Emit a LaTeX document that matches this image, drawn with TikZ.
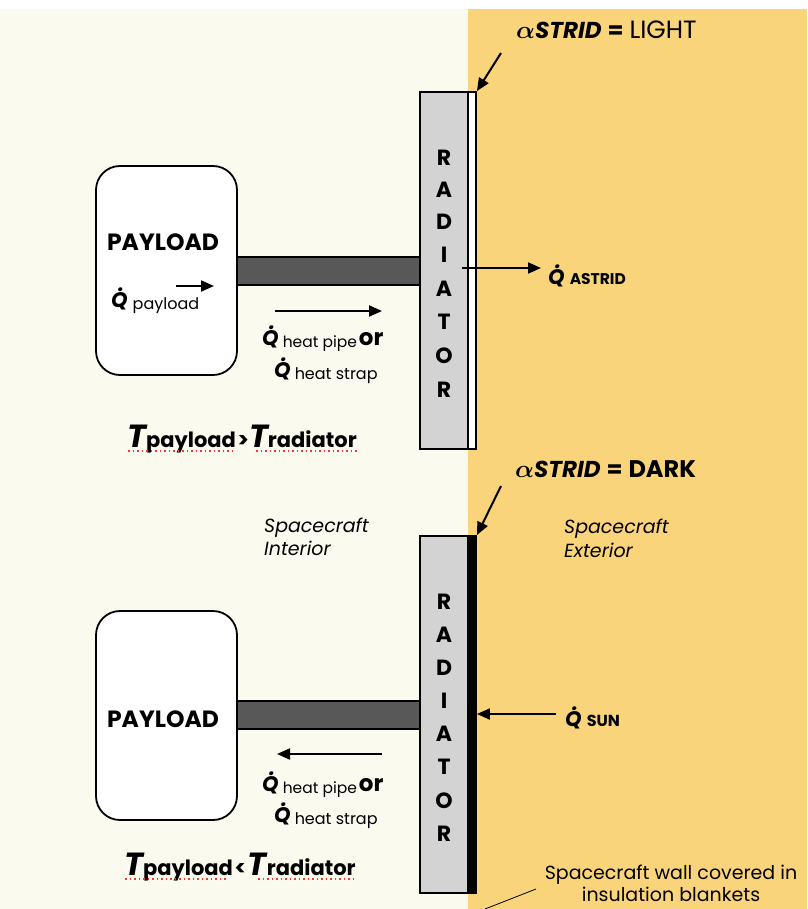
\documentclass[tikz,border=0pt]{standalone}
\usepackage{fontspec}
\setmainfont{Poppins}
\usetikzlibrary{arrows.meta}
\definecolor{cream}{HTML}{FBFAEE}
\definecolor{orng}{HTML}{F9D47B}
\definecolor{radgray}{HTML}{D3D3D3}
\definecolor{pipegray}{HTML}{585858}
\newcommand{\Qd}[1]{{\fontsize{#1}{#1}\selectfont\bfseries\itshape\makebox[0pt][l]{\hspace{0.33em}\smash{\raisebox{0.72em}{.}}}Q}}
\newcommand{\fs}[1]{\fontsize{#1}{#1}\selectfont}
\newcommand{\sub}[1]{\raisebox{-2pt}{#1}}
\begin{document}
\begin{tikzpicture}[x=1pt,y=-1pt,
  arr/.style={line width=2pt,-{Triangle[length=13pt,width=11pt]}},
  payloadbox/.style={draw,line width=1.8pt,fill=white,rounded corners=24pt,minimum width=141pt,minimum height=209pt},
  pipebar/.style={draw,line width=1.2pt,fill=pipegray,minimum width=183pt,minimum height=28pt,inner sep=0pt},
  radbox/.style={draw,line width=1.8pt,fill=radgray,minimum width=48pt,minimum height=357pt,inner sep=0pt},
  stripbox/.style={draw,line width=1.8pt,minimum width=8pt,minimum height=357pt,inner sep=0pt},
  radletter/.style={font=\fs{22}\bfseries,inner sep=0pt},
  lbl/.style={inner sep=0pt,anchor=base west},
  spell/.style={red!80,line width=1.2pt,dash pattern=on 1.5pt off 3pt}]
\useasboundingbox (0,0) rectangle (807,909);
\fill[white] (0,0) rectangle (807,9);
\fill[cream] (0,9) rectangle (468,909);
\fill[orng] (468,9) rectangle (807,909);

% ---------- TOP ----------
\node[pipebar] (hp1) at (328.5,271) {};
\node[payloadbox] (pl1) at (166.5,270.5) {};
\node[font=\fs{23.5}\bfseries,inner sep=0pt,anchor=base] (plt1) at (163,251) {PAYLOAD};
\node[lbl] (qp1) at (111,307) {\Qd{21}\hspace{5pt}\sub{\fs{16}payload}};
\coordinate (qa1s) at (176,286);
\coordinate (qa1e) at (214,286);
\draw[arr] (qa1s) -- (qa1e);

\node[radbox] (rad1) at (444,270.5) {};
\node[stripbox,fill=white] (st1) at (472,270.5) {};
\foreach \l/\y [count=\i] in {R/158,A/190,D/222,I/255,A/289,T/322,O/356,R/390}
  \node[radletter] (r1l\i) at (444,\y) {\l};

\coordinate (hpa1s) at (275,311);
\coordinate (hpa1e) at (382,311);
\draw[arr] (hpa1s) -- (hpa1e);
\node[lbl] (hpt1) at (262,345) {\Qd{21}\hspace{4pt}\sub{\fs{15.5}heat pipe}\hspace{2pt}{\fs{23}\bfseries or}};
\node[lbl] (hst1) at (274,377) {\Qd{21}\hspace{4pt}\sub{\fs{16}heat strap}};

\node[lbl] (tt1) at (127,447) {{\fs{32}\bfseries\itshape T}{\fs{21}\bfseries payload}\,{\fs{21}\bfseries >}{\fs{32}\bfseries\itshape T}{\fs{21}\bfseries radiator}};
\draw[spell] (128,451) -- (232,451);
\draw[spell] (256,451) -- (357,451);

\node[lbl] (al1) at (516,39) {{\fs{27}\boldmath$\alpha$}{\fs{23}\bfseries\itshape STRID}\hspace{6pt}{\fs{23}\bfseries =}\hspace{6pt}{\fs{25}LIGHT}};
\coordinate (al1a) at (501,53);
\draw[arr] (al1a) -- (st1.north east);

\coordinate (qas) at (462,268);
\node[lbl] (qat) at (548,284) {\Qd{21}\hspace{5pt}{\fs{15.5}\bfseries ASTRID}};
\coordinate (qae) at (541,268);
\draw[arr] (qas) -- (qae);

% ---------- labels mid ----------
\node[lbl] (ext) at (564,533) {\fs{19}\itshape Spacecraft};
\node[lbl] (ext2) at (564,557) {\fs{19}\itshape Exterior};
\node[lbl] (int) at (264,532) {\fs{19}\itshape Spacecraft};
\node[lbl] (int2) at (264,555) {\fs{19}\itshape Interior};

% ---------- BOTTOM ----------
\node[pipebar] (hp2) at (328.5,715) {};
\node[payloadbox] (pl2) at (166.5,715.5) {};
\node[font=\fs{23.5}\bfseries,inner sep=0pt,anchor=base] (plt2) at (163,727) {PAYLOAD};

\node[radbox] (rad2) at (444,714.5) {};
\node[stripbox,fill=black] (st2) at (472,714.5) {};
\foreach \l/\y [count=\i] in {R/602,A/635,D/668,I/701,A/734,T/767,O/801,R/834}
  \node[radletter] (r2l\i) at (444,\y) {\l};

\coordinate (hpa2s) at (382,754);
\coordinate (hpa2e) at (277,754);
\draw[arr] (hpa2s) -- (hpa2e);
\node[lbl] (hpt2) at (262,791) {\Qd{21}\hspace{4pt}\sub{\fs{15.5}heat pipe}\hspace{2pt}{\fs{23}\bfseries or}};
\node[lbl] (hst2) at (274,822) {\Qd{21}\hspace{4pt}\sub{\fs{16}heat strap}};

\node[lbl] (tt2) at (124,875) {{\fs{32}\bfseries\itshape T}{\fs{21}\bfseries payload}\,{\fs{21}\bfseries <}\,{\fs{32}\bfseries\itshape T}{\fs{21}\bfseries radiator}};
\draw[spell] (125,879) -- (226,879);
\draw[spell] (258,879) -- (357,879);

\node[lbl] (al2) at (515,477) {{\fs{27}\boldmath$\alpha$}{\fs{23}\bfseries\itshape STRID}\hspace{6pt}{\fs{23}\bfseries =}\hspace{6pt}{\fs{24}\bfseries DARK}};
\coordinate (al2a) at (501,486);
\draw[arr] (al2a) -- (st2.north east);

\node[lbl] (qst) at (565,726) {\Qd{21}\hspace{5pt}{\fs{16}\bfseries SUN}};
\coordinate (qss) at (556,714);
\draw[arr] (qss) -- (st2.east |- qss);

\node[inner sep=0pt,anchor=base,font=\fs{19}] (wall) at (671,879) {Spacecraft wall covered in};
\node[inner sep=0pt,anchor=base,font=\fs{19}] (wall2) at (671,901) {insulation blankets};
\coordinate (walle) at (485,909);
\draw[line width=0.8pt] (536,889) -- (walle);
\end{tikzpicture}
\end{document}
